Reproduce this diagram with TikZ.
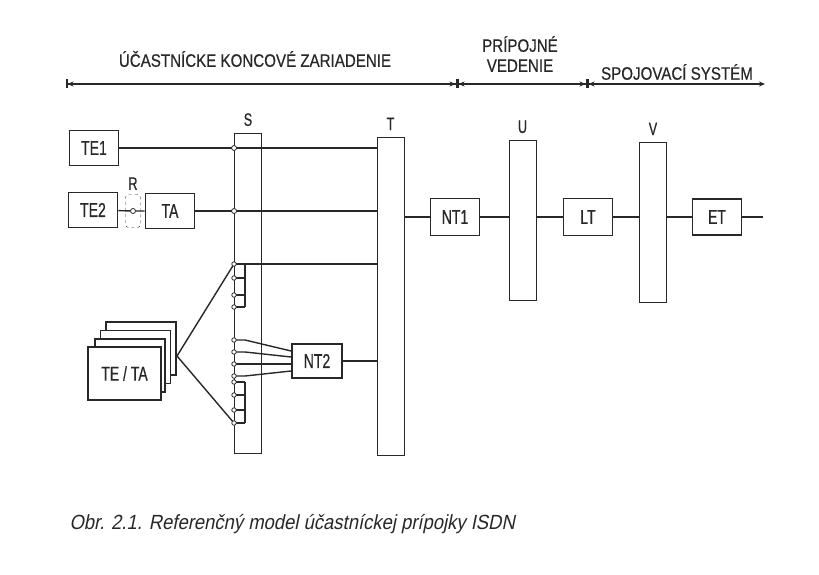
\documentclass[tikz,border=0pt]{standalone}
\usepackage{fontspec}
\setmainfont{Liberation Sans}
\newfontfamily\unitsf{Liberation Sans}[FakeStretch=0.7,FakeBold=0.6]
\newfontfamily\headsf{Liberation Sans}[FakeStretch=0.84,FakeBold=0.5]
\newfontfamily\capsf{Liberation Sans}[FakeStretch=0.9,FakeSlant=0.2]
\usetikzlibrary{arrows.meta,positioning,calc}
\definecolor{ink}{RGB}{40,40,40}
\tikzset{
  unit/.style ={draw=ink,line width=1.8pt,minimum width=49pt,minimum height=35pt,
                inner sep=0pt,fill=white,text=ink,font=\unitsf\fontsize{20}{20}\selectfont},
  bar/.style  ={draw=ink,line width=0.9pt,minimum width=27pt,inner sep=0pt},
  ref/.style  ={text=ink,font=\unitsf\fontsize{18}{18}\selectfont},
  zone/.style ={text=ink,align=center,font=\headsf\fontsize{18}{20}\selectfont},
  wire/.style ={draw=ink,line width=1.4pt},
  tap/.style  ={circle,draw=ink,fill=white,inner sep=0pt,minimum size=5pt,line width=0.8pt},
  span/.style ={draw=ink,line width=1.5pt},
}
\begin{document}
\begin{tikzpicture}[x=1pt,y=-1pt]
\useasboundingbox[fill=white] (0,0) rectangle (819,575);
% header
\draw[span,{Bar[width=9pt]Stealth[length=6pt,width=5pt]}-{Stealth[length=6pt,width=5pt]Bar[width=9pt]}] (66,84) -- (457,84);
\draw[span,{Bar[width=9pt]Stealth[length=6pt,width=5pt]}-{Stealth[length=6pt,width=5pt]Bar[width=9pt]}] (457,84) -- (587,84);
\draw[span,{Bar[width=9pt]Stealth[length=6pt,width=5pt]}-{Stealth[length=6pt,width=5pt]}] (587,84) -- (765,84);
\node[zone] (zte) at (255,59) {ÚČASTNÍCKE KONCOVÉ ZARIADENIE};
\node[zone] (zline) at (520,54) {PRÍPOJNÉ\\VEDENIE};
\node[zone] (zsys) at (677,72) {SPOJOVACÍ SYSTÉM};

% reference bars
\node[bar,minimum height=320pt] (S) at (248,293) {};
\node[bar,minimum height=318pt] (T) at (390.5,296) {};
\node[bar,minimum height=160pt] (U) at (522.5,220) {};
\node[bar,minimum height=160pt] (V) at (653,222) {};
\node[ref,above=3pt of S] {S};
\node[ref,above=3pt of T] {T};
\node[ref,above=3pt of U] {U};
\node[ref,above=3pt of V] {V};

% terminals
\node[unit] (te1) at (94,148) {TE1};
\node[unit] (te2) at (93,210) {TE2};
\node[unit] (ta) at (170,211) {TA};
\node[draw=ink,dashed,rounded corners=3pt,minimum width=15pt,minimum height=33pt,inner sep=0pt] (R) at (133,211) {};
\node[ref,above=1pt of R] {R};
\node[tap] (rtap) at (R.center) {};
\draw[wire] (te2) -- (rtap) -- (ta);
\draw[wire] (te1.east) -- (te1.east -| T.west);
\draw[wire] (ta.east) -- (ta.east -| T.west);
\node[tap] at (te1.east -| S.west) {};
\node[tap] at (ta.east -| S.west) {};

% network side
\node[unit,minimum height=37pt] (nt1) at (455,217) {NT1};
\node[unit,minimum height=37pt] (lt) at (588,217) {LT};
\node[unit,minimum height=36pt] (et) at (717,217) {ET};
\coordinate (out) at (763,217);
\draw[wire] (nt1.west -| T.east) -- (nt1);
\draw[wire] (nt1) -- (nt1.east -| U.west);
\draw[wire] (lt.west -| U.east) -- (lt);
\draw[wire] (lt) -- (lt.east -| V.west);
\draw[wire] (et.west -| V.east) -- (et);
\draw[wire] (et) -- (out);

% TE / TA stack
\foreach \k in {3,2,1}
  \node[unit,minimum width=70pt,minimum height=53pt] at ($(124.5,373.5)+(\k*5.5,-\k*8.3)$) {};
\node[unit,minimum width=73pt,minimum height=53pt] (teta) at (124.5,373.5) {TE / TA};
\coordinate (apex) at (177,356);

% S bus taps
\coordinate (sup) at (234,264);
\coordinate (sdn) at (234,423);
\draw[wire] (apex) -- (sup);
\draw[wire] (apex) -- (sdn);
\draw[wire] (sup) -- (sup -| T.west);
\draw[wire] (245,264) -- (245,307);
\foreach \y in {278,295,307}
  \draw[wire] (234,\y) -- (245,\y);
\draw[wire] (245,382) -- (245,423);
\foreach \y in {382,395,410}
  \draw[wire] (234,\y) -- (245,\y);
\draw[wire] (sdn) -- (245,423);
\node[unit,minimum width=50pt,minimum height=34pt] (nt2) at (317,361) {NT2};
\foreach \y/\z in {340/351,352/357,364/364,376/371}
  \draw[wire] (234,\y) -- (245,\y) -- (nt2.west |- 0,\z);
\draw[wire] (nt2.east) -- (nt2.east -| T.west);
\foreach \y in {264,278,295,307,340,352,364,376,382,395,410,423}
  \node[tap,minimum size=4.5pt] at (234,\y) {};

% caption
\node[anchor=west,text=ink,font=\capsf\fontsize{20.5}{20.5}\selectfont] (cap) at (66,524)
  {Obr. 2.1. Referenčný model účastníckej prípojky ISDN};
\end{tikzpicture}
\end{document}
